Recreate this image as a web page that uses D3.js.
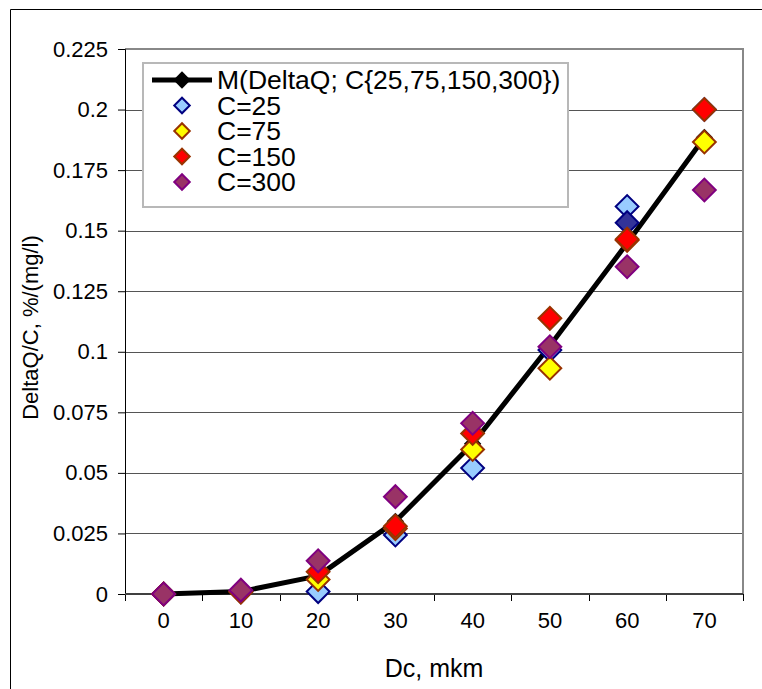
<!DOCTYPE html>
<html><head><meta charset="utf-8">
<script src="https://cdn.jsdelivr.net/npm/d3@7"></script>
<style>html,body{margin:0;padding:0;background:#fff}svg{display:block}text{font-family:Arial,"Liberation Sans",sans-serif;fill:#000}</style>
</head><body>
<svg id="c" width="762" height="689"></svg>
<script>
const categories = ["0","10","20","30","40","50","60","70"];
const yTickValues = [0,0.025,0.05,0.075,0.1,0.125,0.15,0.175,0.2,0.225];
const yTickLabels = ["0","0.025","0.05","0.075","0.1","0.125","0.15","0.175","0.2","0.225"];
const meanValues = [0,0.001,0.0075,0.030,0.062,0.1025,0.1448,0.1885];
const c25 = [0,0.001,0.001,0.0244,0.052,0.1007,0.160,0.2];
const c25Extra = [null,null,null,null,null,null,0.1533,null];
const c75 = [0,0.001,0.006,0.027,0.0597,0.0932,0.146,0.1866];
const c150 = [0,0.0008,0.0092,0.028,0.0663,0.1138,0.1465,0.2];
const c300 = [0,0.0016,0.0137,0.0402,0.0705,0.1021,0.1351,0.1668];
const seriesNames = ["M(DeltaQ; C{25,75,150,300})","C=25","C=75","C=150","C=300"];
const xTitle = "Dc, mkm";
const yTitle = "DeltaQ/C, %/(mg/l)";

const svg = d3.select("#c");
const L = 125, R = 743, T = 49, B = 594;
const x = d3.scaleBand().domain(categories).range([L, R]).padding(0);
const y = d3.scaleLinear().domain([0, 0.225]).range([B, T]);
const cx = c => x(c) + x.bandwidth() / 2;

// outer frame
svg.append("path").attr("d", `M10.5,689 V9.5 H762`).attr("fill","none").attr("stroke","#000").attr("stroke-width",1);

// gridlines
svg.append("g").selectAll("line").data(yTickValues.filter(v => v > 0 && v < 0.225)).join("line")
  .attr("x1", L).attr("x2", R).attr("y1", d => Math.round(y(d)) + 0.5).attr("y2", d => Math.round(y(d)) + 0.5)
  .attr("stroke", "#555").attr("stroke-width", 1);
// plot area border top/right
svg.append("path").attr("d", `M${L},${T} H${R} V${B}`).attr("fill","none").attr("stroke","#888").attr("stroke-width",2);

// y axis
const yAxis = svg.append("g").attr("transform", `translate(${L},0)`)
  .call(d3.axisLeft(y).tickValues(yTickValues).tickSize(7).tickPadding(10)
    .tickFormat((d, i) => yTickLabels[i]));
yAxis.select(".domain").attr("stroke","#000");
yAxis.selectAll("text").attr("font-size", 22).attr("font-family","Arial, 'Liberation Sans', sans-serif");

// x axis
const xAxis = svg.append("g").attr("transform", `translate(0,${B})`)
  .call(d3.axisBottom(x).tickSize(0).tickPadding(18));
xAxis.select(".domain").remove();
xAxis.selectAll("text").attr("font-size", 22).attr("font-family","Arial, 'Liberation Sans', sans-serif");
const edges = categories.map(c => x(c)).concat([R]);
svg.append("g").selectAll("line").data(edges).join("line")
  .attr("x1", d => Math.round(d) + 0.5).attr("x2", d => Math.round(d) + 0.5)
  .attr("y1", B).attr("y2", B + 7).attr("stroke", "#000");
svg.append("line").attr("x1", L).attr("x2", R).attr("y1", B).attr("y2", B).attr("stroke","#404040").attr("stroke-width",2);

// titles
svg.append("text").attr("x", (L + R) / 2).attr("y", 677).attr("text-anchor","middle").attr("font-size", 25).text(xTitle);
svg.append("text").attr("transform", `translate(38,${(T + B) / 2 + 6}) rotate(-90)`).attr("text-anchor","middle").attr("font-size", 22).text(yTitle);

const diamond = (s) => d3.symbol().type(d3.symbolSquare).size(s);

// mean line
const line = d3.line().x((d, i) => cx(categories[i])).y(d => y(d));
svg.append("path").attr("d", line(meanValues)).attr("fill","none").attr("stroke","#000").attr("stroke-width",5).attr("stroke-linejoin","round");
svg.append("g").selectAll("path").data(meanValues).join("path")
  .attr("d", diamond(150)())
  .attr("transform", (d, i) => `translate(${cx(categories[i])},${y(d)}) rotate(45)`)
  .attr("fill","#000");

function drawSeries(vals, fill, stroke) {
  svg.append("g").selectAll("path").data(vals.map((v, i) => [v, i]).filter(d => d[0] !== null)).join("path")
    .attr("d", diamond(260)())
    .attr("transform", d => `translate(${cx(categories[d[1]])},${y(d[0])}) rotate(45)`)
    .attr("fill", fill).attr("stroke", stroke).attr("stroke-width", 2);
}
drawSeries(c25, "#99CCFF", "#000080");
drawSeries(c25Extra, "#333399", "#000080");
drawSeries(c75, "#FFFF00", "#993300");
drawSeries(c150, "#FF0000", "#993300");
drawSeries(c300, "#993366", "#800080");

// legend
const lg = svg.append("g");
lg.append("rect").attr("x", 143).attr("y", 63).attr("width", 425).attr("height", 144)
  .attr("fill","#fff").attr("stroke","#b8b8b8").attr("stroke-width",2);
const legendStyles = [
  {fill:"#000", stroke:"none", line:true},
  {fill:"#99CCFF", stroke:"#000080"},
  {fill:"#FFFF00", stroke:"#993300"},
  {fill:"#FF0000", stroke:"#993300"},
  {fill:"#993366", stroke:"#800080"}
];
seriesNames.forEach((name, i) => {
  const yy = 80 + i * 25.5;
  const st = legendStyles[i];
  if (st.line) lg.append("line").attr("x1",152).attr("x2",212).attr("y1",yy).attr("y2",yy).attr("stroke","#000").attr("stroke-width",5);
  lg.append("path").attr("d", diamond(st.line ? 150 : 120)()).attr("transform", `translate(182,${yy}) rotate(45)`)
    .attr("fill", st.fill).attr("stroke", st.stroke).attr("stroke-width", 2);
  lg.append("text").attr("x", 217).attr("y", yy + 9).attr("font-size", 26.5).text(name);
});
</script>
</body></html>
